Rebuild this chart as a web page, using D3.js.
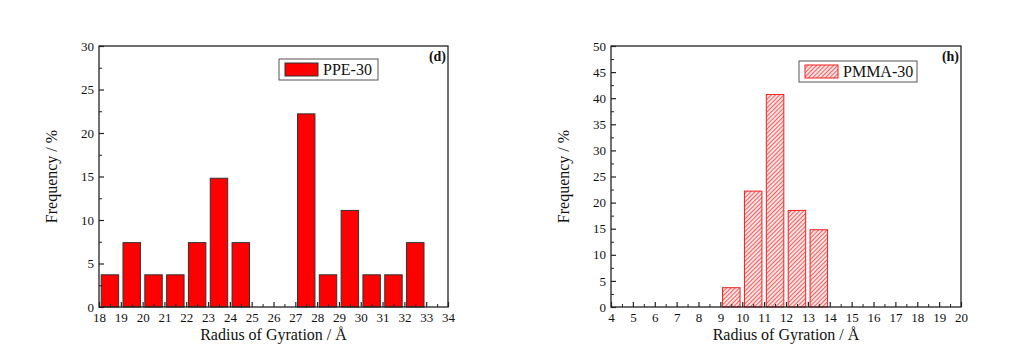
<!DOCTYPE html>
<html>
<head>
<meta charset="utf-8">
<script src="https://cdn.jsdelivr.net/npm/d3@7"></script>
<style>
  body { margin: 0; background: #fff; }
  svg, svg text { font-family: "Liberation Serif", "Times New Roman", serif; }
</style>
</head>
<body>
<div id="chart"></div>
<script>
// PPE-30 histogram, bins of 1 A starting at 18
const ppeBins = [18, 19, 20, 21, 22, 23, 24, 25, 26, 27, 28, 29, 30, 31, 32];
const ppeFreq = [3.7, 7.4, 3.7, 3.7, 7.4, 14.8, 7.4, 0, 0, 22.2, 3.7, 11.1, 3.7, 3.7, 7.4];
// PMMA-30 histogram
const pmmaBins = [9, 10, 11, 12, 13];
const pmmaFreq = [3.7, 22.2, 40.7, 18.5, 14.8];

const ppeXTicks = d3.range(18, 35, 1);
const ppeYTicks = [0, 5, 10, 15, 20, 25, 30];
const pmmaXTicks = d3.range(4, 21, 1);
const pmmaYTicks = [0, 5, 10, 15, 20, 25, 30, 35, 40, 45, 50];

const width = 1018, height = 360;
const serif = "'Liberation Serif', 'Times New Roman', serif";

let svg = d3.select("#chart")
    .append("svg")
    .attr("width", width)
    .attr("height", height);

let defs = svg.append("defs");
let hatch = defs.append("pattern")
    .attr("id", "hatch")
    .attr("patternUnits", "userSpaceOnUse")
    .attr("width", 3)
    .attr("height", 3)
    .attr("patternTransform", "rotate(45)");
hatch.append("rect").attr("width", 3).attr("height", 3).attr("fill", "#fde4e4");
hatch.append("line")
    .attr("x1", 0).attr("y1", 0).attr("x2", 0).attr("y2", 3)
    .attr("stroke", "#f03030").attr("stroke-width", 1.5);

function drawPanel(opt) {
    let g = svg.append("g");
    let x = d3.scaleLinear().domain(opt.xDomain).range([opt.left, opt.right]);
    let y = d3.scaleLinear().domain(opt.yDomain).range([opt.bottom, opt.top]);

    // minor ticks
    let xMinor = d3.range(opt.xDomain[0] + 0.5, opt.xDomain[1], 1);
    let yMinor = d3.range(opt.yDomain[0] + 2.5, opt.yDomain[1], 5);

    // bars
    g.selectAll("rect.bar")
        .data(opt.bins)
        .enter()
        .append("rect")
        .attr("class", "bar")
        .attr("x", function(d) { return x(d + 0.1); })
        .attr("width", function(d) { return x(d + 0.9) - x(d + 0.1); })
        .attr("y", function(d, i) { return y(opt.freq[i]); })
        .attr("height", function(d, i) { return y(0) - y(opt.freq[i]); })
        .attr("fill", opt.fill)
        .attr("stroke", opt.stroke)
        .attr("stroke-width", 1);

    // frame
    g.append("rect")
        .attr("x", opt.left).attr("y", opt.top)
        .attr("width", opt.right - opt.left)
        .attr("height", opt.bottom - opt.top)
        .attr("fill", "none")
        .attr("stroke", "#222")
        .attr("stroke-width", 1.3);

    // x axis
    let xAxis = g.append("g")
        .attr("transform", `translate(0, ${opt.bottom})`)
        .call(d3.axisBottom(x).tickValues(opt.xTicks).tickFormat(d3.format("d"))
            .tickSizeInner(-5).tickSizeOuter(0).tickPadding(6));
    xAxis.attr("font-family", serif);
    xAxis.select(".domain").remove();
    xAxis.selectAll("text").style("font-size", "13px").attr("fill", "#111");
    xAxis.selectAll("line").attr("stroke", "#222").attr("stroke-width", 1.2);

    g.append("g")
        .attr("transform", `translate(0, ${opt.bottom})`)
        .call(d3.axisBottom(x).tickValues(xMinor).tickFormat("").tickSizeInner(-3).tickSizeOuter(0))
        .call(function(s) { s.select(".domain").remove(); s.selectAll("line").attr("stroke", "#222"); });

    // y axis
    let yAxis = g.append("g")
        .attr("transform", `translate(${opt.left}, 0)`)
        .call(d3.axisLeft(y).tickValues(opt.yTicks).tickFormat(d3.format("d"))
            .tickSizeInner(-5).tickSizeOuter(0).tickPadding(5));
    yAxis.attr("font-family", serif);
    yAxis.select(".domain").remove();
    yAxis.selectAll("text").style("font-size", "13px").attr("fill", "#111");
    yAxis.selectAll("line").attr("stroke", "#222").attr("stroke-width", 1.2);

    g.append("g")
        .attr("transform", `translate(${opt.left}, 0)`)
        .call(d3.axisLeft(y).tickValues(yMinor).tickFormat("").tickSizeInner(-3).tickSizeOuter(0))
        .call(function(s) { s.select(".domain").remove(); s.selectAll("line").attr("stroke", "#222"); });

    // axis titles
    g.append("text")
        .attr("x", (opt.left + opt.right) / 2)
        .attr("y", opt.bottom + 33)
        .style("text-anchor", "middle")
        .style("font-size", "16px")
        .attr("fill", "#111")
        .text("Radius of Gyration / Å");

    g.append("text")
        .attr("transform", `translate(${opt.left - 42}, ${(opt.top + opt.bottom) / 2}) rotate(-90)`)
        .style("text-anchor", "middle")
        .style("font-size", "16px")
        .attr("fill", "#111")
        .text("Frequency / %");

    // panel label
    g.append("text")
        .attr("x", opt.right - 2)
        .attr("y", opt.top + 15)
        .style("text-anchor", "end")
        .style("font-size", "14px")
        .style("font-weight", "bold")
        .attr("fill", "#111")
        .text(opt.tag);

    // legend
    let lg = g.append("g").attr("transform", `translate(${opt.legX}, ${opt.legY})`);
    lg.append("rect")
        .attr("width", opt.legW).attr("height", 21)
        .attr("fill", "#fff").attr("stroke", "#555").attr("stroke-width", 1);
    lg.append("rect")
        .attr("x", 6).attr("y", 4).attr("width", 33).attr("height", 13)
        .attr("fill", opt.fill).attr("stroke", opt.stroke);
    lg.append("text")
        .attr("x", 44).attr("y", 16)
        .style("font-size", "16px")
        .attr("fill", "#111")
        .text(opt.name);
}

drawPanel({
    left: 99, right: 448, top: 46, bottom: 307,
    xDomain: [18, 34], yDomain: [0, 30],
    xTicks: ppeXTicks, yTicks: ppeYTicks,
    bins: ppeBins, freq: ppeFreq,
    fill: "#ff0000", stroke: "#333",
    tag: "(d)", name: "PPE-30",
    legX: 279, legY: 59, legW: 99
});

drawPanel({
    left: 611, right: 961, top: 46, bottom: 307,
    xDomain: [4, 20], yDomain: [0, 50],
    xTicks: pmmaXTicks, yTicks: pmmaYTicks,
    bins: pmmaBins, freq: pmmaFreq,
    fill: "url(#hatch)", stroke: "#f02020",
    tag: "(h)", name: "PMMA-30",
    legX: 799, legY: 61, legW: 118
});
</script>
</body>
</html>
